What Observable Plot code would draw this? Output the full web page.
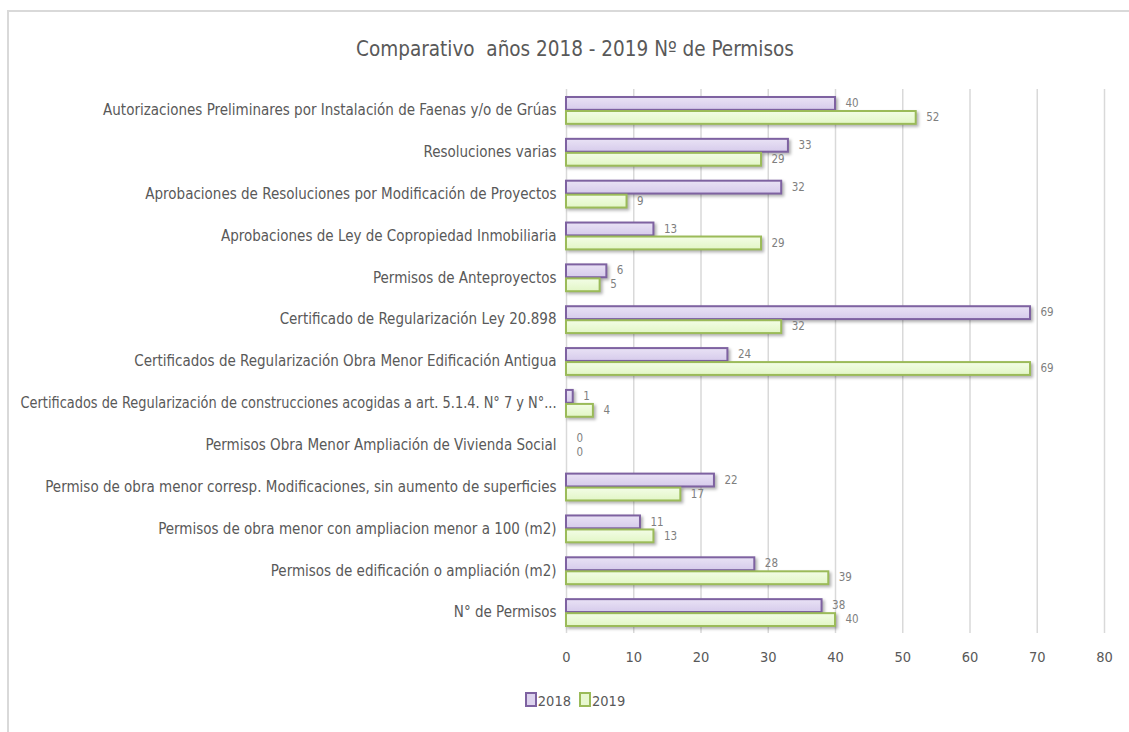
<!DOCTYPE html>
<html>
<head>
<meta charset="utf-8">
<script src="https://cdn.jsdelivr.net/npm/d3@7"></script>
<script src="https://cdn.jsdelivr.net/npm/@observablehq/plot@0.6"></script>
<style>
  html, body { margin: 0; padding: 0; background: #fff; }
  #wrap { position: relative; width: 1129px; height: 732px; overflow: hidden;
    font-family: "DejaVu Sans Condensed", "Liberation Sans Narrow", sans-serif; color: #595959; }
  #border { position: absolute; left: 7px; top: 10px; width: 1300px; height: 900px;
    border-left: 2px solid #d9d9d9; border-top: 2px solid #d9d9d9; }
  #title { position: absolute; left: 0; width: 1150px; top: 37px; text-align: center;
    font-size: 20.5px; color: #595959; }
  #chart { position: absolute; left: 0; top: 0; }
  #legend { position: absolute; left: 0; width: 1150px; top: 692px; text-align: center;
    font-size: 14.5px; color: #595959; }
  .sw { display: inline-block; width: 8px; height: 11px; vertical-align: -1px; margin-right: 1px; }
  .item { margin: 0 4px; }
</style>
</head>
<body>
<div id="wrap">
  <div id="border"></div>
  <div id="title">Comparativo&nbsp; años 2018 - 2019 Nº de Permisos</div>
  <div id="chart"></div>
  <div id="legend"></div>
</div>
<script>
const categories = [
  "Autorizaciones Preliminares por Instalación de Faenas y/o de Grúas",
  "Resoluciones varias",
  "Aprobaciones de Resoluciones por Modificación de Proyectos",
  "Aprobaciones de Ley de Copropiedad Inmobiliaria",
  "Permisos de Anteproyectos",
  "Certificado de Regularización Ley 20.898",
  "Certificados de Regularización Obra Menor Edificación Antigua",
  "Certificados de Regularización de construcciones acogidas a art. 5.1.4. N° 7 y N°...",
  "Permisos Obra Menor Ampliación de Vivienda Social",
  "Permiso de obra menor corresp. Modificaciones, sin aumento de superficies",
  "Permisos de obra menor con ampliacion menor a 100 (m2)",
  "Permisos de edificación o ampliación (m2)",
  "N° de Permisos"
];
const years = ["2018", "2019"];
const values2018 = [40, 33, 32, 13, 6, 69, 24, 1, 0, 22, 11, 28, 38];
const values2019 = [52, 29, 9, 29, 5, 32, 69, 4, 0, 17, 13, 39, 40];
const xTicks = [0, 10, 20, 30, 40, 50, 60, 70, 80];

const rows2018 = categories.map((c, i) => ({cat: c, year: "2018", value: values2018[i]}));
const rows2019 = categories.map((c, i) => ({cat: c, year: "2019", value: values2019[i]}));

const stroke = {"2018": "#7e62a1", "2019": "#9bbb59"};
const font = '"DejaVu Sans Condensed", "Liberation Sans Narrow", sans-serif';

const chart = Plot.plot({
  width: 1129,
  height: 680,
  marginLeft: 566,
  marginRight: 25,
  marginTop: 89,
  marginBottom: 47,
  style: {fontFamily: font, color: "#595959", background: "transparent"},
  x: {domain: [0, 80], ticks: xTicks},
  y: {domain: categories, padding: 0, round: false},
  marks: [
    Plot.gridX(xTicks, {stroke: "#d9d9d9", strokeOpacity: 1, strokeWidth: 1.5}),
    Plot.barX(rows2018.filter(d => d.value > 0), {x: "value", y: "cat", insetTop: 8, insetBottom: 21,
      fill: "url(#g2018)", stroke: stroke["2018"], strokeWidth: 2}),
    Plot.barX(rows2019.filter(d => d.value > 0), {x: "value", y: "cat", insetTop: 22, insetBottom: 7,
      fill: "url(#g2019)", stroke: stroke["2019"], strokeWidth: 2}),
    Plot.text(rows2018, {x: "value", y: "cat", text: d => String(d.value), dx: 10, dy: -7,
      textAnchor: "start", fill: "#7f7f7f", fontSize: 11.5}),
    Plot.text(rows2019, {x: "value", y: "cat", text: d => String(d.value), dx: 10, dy: 7,
      textAnchor: "start", fill: "#7f7f7f", fontSize: 11.5}),
    Plot.axisX(xTicks, {tickSize: 0, tickPadding: 18, fontSize: 14.5, label: null, fill: "#595959"}),
    Plot.axisY({tickSize: 0, tickPadding: 10, fontSize: 15, label: null, fill: "#595959"})
  ]
});

const ns = "http://www.w3.org/2000/svg";
const defs = document.createElementNS(ns, "defs");
defs.innerHTML = `
  <linearGradient id="g2018" x1="0" y1="0" x2="0" y2="1">
    <stop offset="0" stop-color="#e9e2f5"/><stop offset="1" stop-color="#d6cbeb"/>
  </linearGradient>
  <linearGradient id="g2019" x1="0" y1="0" x2="0" y2="1">
    <stop offset="0" stop-color="#f3fde6"/><stop offset="1" stop-color="#e2f6c6"/>
  </linearGradient>`;
chart.insertBefore(defs, chart.firstChild);
chart.querySelectorAll('g[aria-label="bar"]').forEach(g => {
  g.style.filter = "drop-shadow(2px 2px 1.5px rgba(0,0,0,0.3))";
});
document.getElementById("chart").appendChild(chart);

// compress any y-axis label that would not fit between the frame border and the axis
chart.querySelectorAll('g[aria-label="y-axis tick label"] text').forEach(t => {
  const w = t.getComputedTextLength();
  if (w > 536) {
    t.setAttribute("textLength", "536");
    t.setAttribute("lengthAdjust", "spacingAndGlyphs");
  }
});

const legend = document.getElementById("legend");
const fills = {"2018": "#ddd3ee", "2019": "#e8f8d0"};
years.forEach(y => {
  const s = document.createElement("span");
  s.className = "item";
  s.innerHTML = `<span class="sw" style="background:${fills[y]};border:2px solid ${stroke[y]}"></span>${y}`;
  legend.appendChild(s);
});
</script>
</body>
</html>
